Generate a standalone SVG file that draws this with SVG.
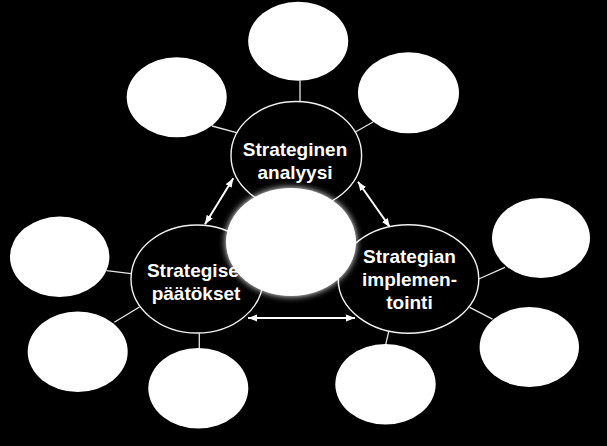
<svg xmlns="http://www.w3.org/2000/svg" width="607" height="446" viewBox="0 0 607 446">
<defs>
<style>
.sat{fill:#fff;stroke:none}
.main{fill:#000;stroke:#f2f2f2;stroke-width:1.4}
.link{stroke:#e6e6e6;stroke-width:1.3;fill:none}
.arr{stroke:#fff;stroke-width:2;fill:none;marker-start:url(#ah);marker-end:url(#ah)}
.lbl{font-family:"Liberation Sans",Arial,sans-serif;font-weight:bold;font-size:19px;fill:#fff;text-anchor:middle}
</style>
<marker id="ah" markerUnits="userSpaceOnUse" markerWidth="10" markerHeight="8" refX="9" refY="4" orient="auto-start-reverse">
<path d="M0,0.5 L9,4 L0,7.5 z" fill="#fff"/>
</marker>
<filter id="glow" x="-20%" y="-20%" width="140%" height="140%">
<feGaussianBlur in="SourceGraphic" stdDeviation="3.5" result="b"/>
<feMerge><feMergeNode in="b"/><feMergeNode in="SourceGraphic"/></feMerge>
</filter>
</defs>
<rect x="0" y="0" width="607" height="446" fill="#000"/>
<g id="connectors">
<line class="link" x1="300" y1="80.5" x2="300" y2="102"/>
<line class="link" x1="212" y1="126" x2="237.5" y2="132.8"/>
<line class="link" x1="373" y1="122" x2="354.5" y2="132.5"/>
<line class="link" x1="106.5" y1="270.7" x2="131" y2="273.7"/>
<line class="link" x1="114.3" y1="322.3" x2="139.5" y2="307"/>
<line class="link" x1="199.3" y1="333" x2="199.3" y2="348.5"/>
<line class="link" x1="389" y1="330.3" x2="385.7" y2="344.7"/>
<line class="link" x1="469.7" y1="307.3" x2="492.5" y2="319.2"/>
<line class="link" x1="478.7" y1="279" x2="505" y2="267.3"/>
<line class="arr" x1="233.3" y1="178.3" x2="205" y2="224.3"/>
<line class="arr" x1="358" y1="181.7" x2="390" y2="227.3"/>
<line class="arr" x1="248" y1="318" x2="355" y2="318"/>
</g>
<g id="sat-top"><ellipse class="sat" cx="298.2" cy="41.2" rx="50" ry="39.5"/></g>
<g id="sat-upper-left"><ellipse class="sat" cx="176.7" cy="97.3" rx="50" ry="40"/></g>
<g id="sat-upper-right"><ellipse class="sat" cx="408.5" cy="92.8" rx="50.5" ry="40.5"/></g>
<g id="sat-left"><ellipse class="sat" cx="59.7" cy="256.8" rx="49.7" ry="40.2"/></g>
<g id="sat-lower-left"><ellipse class="sat" cx="77.7" cy="351.7" rx="50" ry="40.3"/></g>
<g id="sat-bottom-left"><ellipse class="sat" cx="198.3" cy="388.3" rx="50" ry="40.3"/></g>
<g id="sat-bottom-right"><ellipse class="sat" cx="385.5" cy="384.3" rx="50.2" ry="40.3"/></g>
<g id="sat-lower-right"><ellipse class="sat" cx="529.3" cy="347" rx="49.7" ry="40"/></g>
<g id="sat-right"><ellipse class="sat" cx="541" cy="238" rx="49" ry="40"/></g>
<g id="analyysi">
<ellipse class="main" cx="296.3" cy="155.5" rx="65.3" ry="54"/>
<text class="lbl" x="295" y="156">Strateginen</text>
<text class="lbl" x="295" y="179">analyysi</text>
</g>
<g id="paatokset">
<ellipse class="main" cx="197" cy="279" rx="66" ry="54"/>
<text class="lbl" x="196" y="276.5">Strategiset</text>
<text class="lbl" x="196" y="300">päätökset</text>
</g>
<g id="implementointi">
<ellipse class="main" cx="408.5" cy="279" rx="70.3" ry="54.2"/>
<text class="lbl" x="409.5" y="262.5">Strategian</text>
<text class="lbl" x="409.5" y="286">implemen-</text>
<text class="lbl" x="409.5" y="309">tointi</text>
</g>
<g id="center"><ellipse cx="291" cy="242" rx="65" ry="54" fill="#fff" filter="url(#glow)"/></g>
</svg>
